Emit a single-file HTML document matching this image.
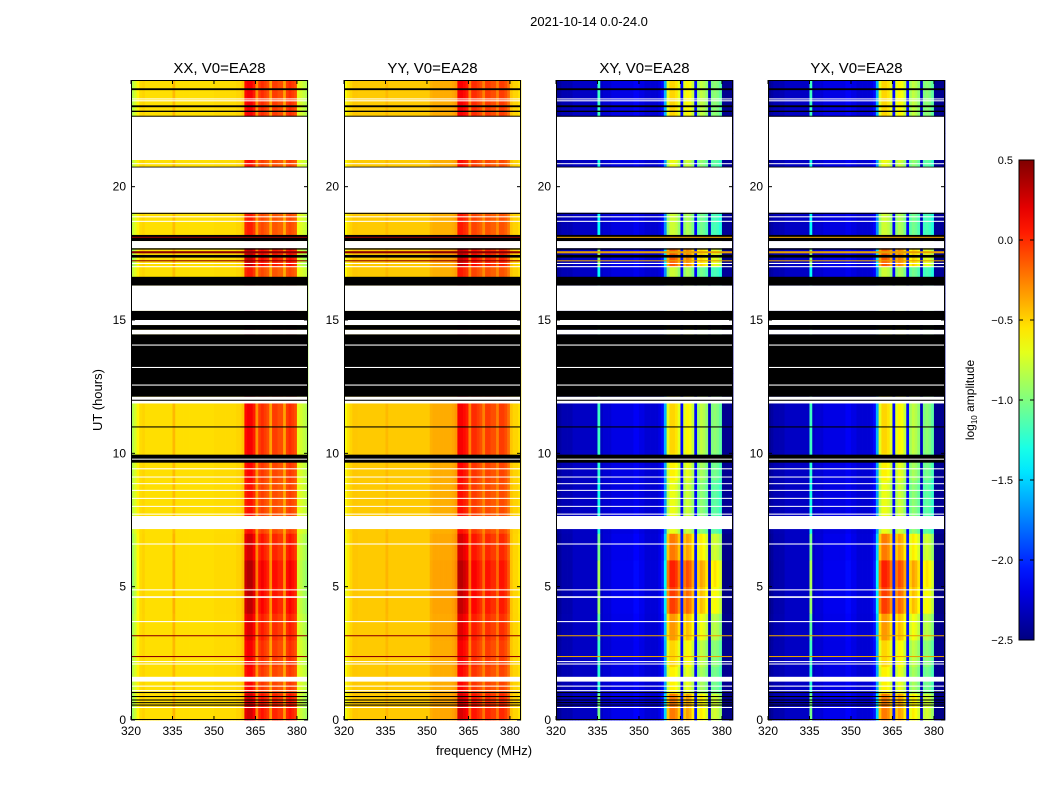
<!DOCTYPE html>
<html><head><meta charset="utf-8">
<style>
body{margin:0;background:#fff;}
svg{display:block;font-family:"Liberation Sans",sans-serif;}
</style></head>
<body>
<svg id="fig" width="1050" height="800" viewBox="0 0 1050 800">
<text x="589" y="26" font-size="13" text-anchor="middle">2021-10-14 0.0-24.0</text>
<text x="102" y="400" font-size="13" text-anchor="middle" transform="rotate(-90 102 400)">UT (hours)</text>
<text x="484" y="755" font-size="13" text-anchor="middle">frequency (MHz)</text>
<g id="panels"></g>
<g id="cbar"></g>
</svg>
<script>
// ---- data ----
const panelTitles = ["XX, V0=EA28","YY, V0=EA28","XY, V0=EA28","YX, V0=EA28"];
const freqStart = 320, nChan = 64; // 1 MHz channels 320..383
const xxProfile = [-0.85,-0.75,-0.6,-0.52,-0.5,-0.53,-0.53,-0.53,-0.53,-0.53,-0.53,-0.53,-0.53,-0.53,-0.53,-0.42,-0.53,-0.53,-0.53,-0.53,-0.53,-0.53,-0.53,-0.53,-0.53,-0.53,-0.53,-0.53,-0.53,-0.53,-0.52,-0.52,-0.52,-0.52,-0.52,-0.52,-0.52,-0.52,-0.5,-0.5,-0.45,0.1,0.15,0.15,0.05,-0.3,-0.05,0.0,-0.05,-0.1,-0.35,-0.05,-0.05,-0.1,-0.1,-0.35,-0.05,0.0,-0.05,-0.1,-0.7,-0.75,-0.8,-0.85];
const yyProfile = [-0.65,-0.55,-0.5,-0.46,-0.46,-0.47,-0.47,-0.47,-0.47,-0.47,-0.47,-0.47,-0.47,-0.47,-0.47,-0.42,-0.47,-0.47,-0.47,-0.47,-0.47,-0.47,-0.47,-0.47,-0.47,-0.47,-0.47,-0.47,-0.47,-0.47,-0.47,-0.4,-0.38,-0.38,-0.38,-0.38,-0.38,-0.38,-0.38,-0.36,-0.32,0.15,0.15,0.1,0.05,-0.25,0.0,0.0,-0.05,-0.1,-0.25,-0.05,-0.05,-0.1,-0.1,-0.25,-0.05,-0.05,-0.1,-0.2,-0.45,-0.5,-0.5,-0.55];
const xyProfile = [-2.45,-2.4,-2.35,-2.35,-2.35,-2.35,-2.3,-2.3,-2.3,-2.3,-2.3,-2.3,-2.3,-2.3,-2.3,-1.2,-2.3,-2.25,-2.25,-2.25,-2.2,-2.2,-2.2,-2.2,-2.2,-2.2,-2.2,-2.2,-2.15,-2.15,-2.2,-2.2,-2.25,-2.25,-2.25,-2.25,-2.25,-2.2,-2.1,-1.6,-0.7,-0.5,-0.5,-0.55,-0.7,-2.1,-0.7,-0.6,-0.65,-0.8,-2.1,-0.9,-0.8,-0.85,-0.95,-2.3,-1.0,-0.95,-1.0,-1.1,-2.45,-2.45,-2.45,-2.45];
const yxProfile = [-2.45,-2.4,-2.35,-2.35,-2.35,-2.35,-2.3,-2.3,-2.3,-2.3,-2.3,-2.3,-2.3,-2.3,-2.3,-1.2,-2.3,-2.25,-2.25,-2.25,-2.2,-2.2,-2.2,-2.2,-2.2,-2.2,-2.2,-2.2,-2.15,-2.15,-2.2,-2.2,-2.25,-2.25,-2.25,-2.25,-2.25,-2.2,-2.1,-1.6,-0.7,-0.5,-0.5,-0.55,-0.7,-2.1,-0.7,-0.6,-0.65,-0.8,-2.1,-0.9,-0.8,-0.85,-0.95,-2.3,-1.0,-0.95,-1.0,-1.1,-2.45,-2.45,-2.45,-2.45];
const panelBase = [-0.53,-0.47,-2.3,-2.3];
const hourBoost = [1.15,0.95,1.0,1.1,1.25,1.3,1.15,0.9,0.9,0.95,1.0,1.0,1.0,1.0,1.0,1.0,0.85,1.2,0.85,0.9,0.9,0.95,1.0,1.0];
const flagKinds = ['b','w','w','b','b','b','w','w','b','w','b','w','w','b','r','w','b','r','b','r','w','w','b','w','b','w','b','w','b','w','w','w','w','b','b','b','w','w','w','w','w','w','w','w','w','w','w','w','w','r','r','w','w','w','w','w','b','b','b','b','b','w'];
const flagStart = [23.62,23.2,23.27,22.98,22.8,22.62,21.0,20.85,20.72,19.02,18.98,18.85,18.68,17.96,18.08,17.69,17.64,17.5,17.34,17.2,17.1,16.98,16.29,15.34,15.0,14.81,14.63,14.46,12.12,14.04,13.2,12.54,11.87,11.97,10.97,9.65,9.78,9.4,9.1,8.85,8.6,8.3,8.0,7.7,7.16,6.58,4.86,4.58,3.67,3.14,2.36,2.17,2.08,1.44,1.25,1.08,1.01,0.86,0.73,0.63,0.54,0.45];
const flagEnd = [23.69,23.24,23.31,23.05,22.85,22.66,22.62,20.88,20.75,20.72,19.02,18.89,18.72,18.19,18.12,17.96,17.69,17.58,17.44,17.24,17.14,17.02,16.62,16.29,15.34,15.0,14.81,14.63,14.46,14.08,13.24,12.58,12.12,12.01,11.01,9.95,9.8,9.44,9.13,8.88,8.63,8.33,8.03,7.74,7.65,6.62,4.9,4.64,3.71,3.18,2.4,2.21,2.12,1.62,1.29,1.12,1.05,0.9,0.77,0.67,0.58,0.49];
const xTicks = [320,335,350,365,380];
const yTicks = [0,5,10,15,20];
const cbTicks = [0.5,0.0,-0.5,-1.0,-1.5,-2.0,-2.5];
const profiles = [xxProfile,yyProfile,xyProfile,yxProfile];

// ---- layout ----
const panelX = [131,344,556,768], PW=177, PT=80, PB=720;
const vmin=-2.5, vmax=0.5;
const NS="http://www.w3.org/2000/svg";
function mk(tag, attrs, parent){const e=document.createElementNS(NS,tag);for(const k in attrs)e.setAttribute(k,attrs[k]);parent.appendChild(e);return e;}
function jet(v){let t=(v-vmin)/(vmax-vmin);t=Math.max(0,Math.min(1,t));
 const r=Math.max(0,Math.min(1,Math.min(4*t-1.5,-4*t+4.5)));
 const g=Math.max(0,Math.min(1,Math.min(4*t-0.5,-4*t+3.5)));
 const b=Math.max(0,Math.min(1,Math.min(4*t+0.5,-4*t+2.5)));
 return `rgb(${Math.round(r*255)},${Math.round(g*255)},${Math.round(b*255)})`;}
const yScale = h => PB - (h/24)*(PB-PT);
const panels=document.getElementById('panels');
profiles.forEach((prof,p)=>{
 const x0=panelX[p];
 const xScale = f => x0 + (f-freqStart)*PW/nChan;
 const g=mk('g',{},panels);
 
 
 for(let h=0;h<24;h++){
  for(let c=0;c<nChan;c++){
   const v=panelBase[p]+(prof[c]-panelBase[p])*hourBoost[h];
   const r=mk('rect',{x:xScale(freqStart+c),y:yScale(h+1),width:PW/nChan+0.4,height:(PB-PT)/24+0.4,fill:jet(v)},g);
   
   
  }
 }
 flagKinds.forEach((k,i)=>{
  const y1=yScale(flagEnd[i]), y2=yScale(flagStart[i]);
  const fill = k==='w'?'#fff':k==='b'?'#000':(p<2?'#8b0000':'#e8a000');
  const r=mk('rect',{x:x0,y:y1,width:PW,height:Math.max(1,y2-y1),fill:fill},g);
  
  
 });
 const fr=mk('rect',{x:x0+0.5,y:PT+0.5,width:PW-1,height:PB-PT-1,fill:'none',stroke:'#000','stroke-width':1},g);
 
 
 const t=mk('text',{x:x0+PW/2,y:73,'font-size':15,'text-anchor':'middle'},g);t.textContent=panelTitles[p];
 
 
 xTicks.forEach(f=>{const x=xScale(f);
  mk('line',{x1:x,x2:x,y1:PB,y2:PB-4,stroke:'#000'},g);mk('line',{x1:x,x2:x,y1:PT,y2:PT+4,stroke:'#000'},g);
  const tl=mk('text',{x:x,y:PB+15,'font-size':12,'text-anchor':'middle'},g);tl.textContent=f;
  
  });
 yTicks.forEach(h=>{const y=yScale(h);
  mk('line',{x1:x0,x2:x0+4,y1:y,y2:y,stroke:'#000'},g);mk('line',{x1:x0+PW,x2:x0+PW-4,y1:y,y2:y,stroke:'#000'},g);
  const tl=mk('text',{x:x0-5,y:y+4,'font-size':12,'text-anchor':'end'},g);tl.textContent=h;
  
  });
});
// colorbar
const cb=document.getElementById('cbar');
const CX=1019,CW=15,CT=160,CB=640;
const defs=mk('defs',{},cb);const lg=mk('linearGradient',{id:'jg',x1:0,y1:1,x2:0,y2:0},defs);
for(let i=0;i<=20;i++){mk('stop',{offset:i/20,'stop-color':jet(vmin+(vmax-vmin)*i/20)},lg);}
mk('rect',{x:CX,y:CT,width:CW,height:CB-CT,fill:'url(#jg)',stroke:'#000'},cb);
cbTicks.forEach(v=>{const y=CB-(v-vmin)/(vmax-vmin)*(CB-CT);
 mk('line',{x1:CX,x2:CX+4,y1:y,y2:y,stroke:'#000'},cb);
 mk('line',{x1:CX+CW-4,x2:CX+CW,y1:y,y2:y,stroke:'#000'},cb);
 const t=mk('text',{x:CX-6,y:y+4,'font-size':11,'text-anchor':'end'},cb);t.textContent=(v<0?'\u2212':'')+Math.abs(v).toFixed(1);
 
 });
const cl=mk('text',{x:974,y:400,'font-size':12,'text-anchor':'middle',transform:'rotate(-90 974 400)'},cb);
cl.innerHTML='log<tspan font-size="8" dy="3">10</tspan><tspan dy="-3"> amplitude</tspan>';


</script>
</body></html>
